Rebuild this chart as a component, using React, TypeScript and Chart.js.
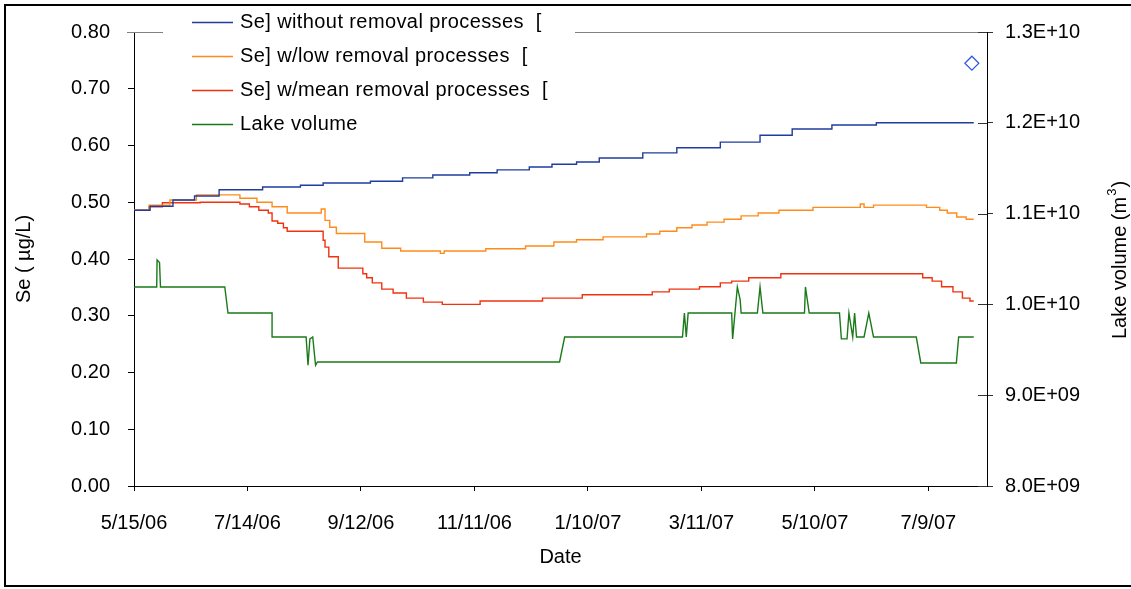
import React, { useEffect, useRef } from 'react';
import { Chart, registerables } from 'chart.js';

Chart.register(...registerables);

const FONT = "'Liberation Sans', Arial, sans-serif";

// X axis: days since 5/15/06
const xTickDays = [0, 60, 120, 180, 240, 300, 360, 420];
const xTickLabels = ['5/15/06', '7/14/06', '9/12/06', '11/11/06', '1/10/07', '3/11/07', '5/10/07', '7/9/07'];
const xMaxDay = 451;

const yTicks = [0, 0.1, 0.2, 0.3, 0.4, 0.5, 0.6, 0.7, 0.8];
const y2Ticks = [8e9, 9e9, 1e10, 1.1e10, 1.2e10, 1.3e10];
const y2TickLabels = ['8.0E+09', '9.0E+09', '1.0E+10', '1.1E+10', '1.2E+10', '1.3E+10'];

// [Se] without removal processes
const seNoRemovalDays = [0, 8.5, 20.6, 32, 45, 68, 88, 100, 125, 142, 158, 177.5, 192, 209, 221, 234, 246, 269, 287, 310, 331, 348, 369, 392.5, 444];
const seNoRemoval = [0.486, 0.493, 0.504, 0.511, 0.522, 0.527, 0.530, 0.534, 0.537, 0.543, 0.548, 0.552, 0.557, 0.562, 0.567, 0.571, 0.578, 0.587, 0.596, 0.606, 0.618, 0.629, 0.636, 0.640, 0.640];

// [Se] w/low removal processes
const seLowDays = [0, 8, 19, 33, 56, 65, 73, 81, 99, 101, 103.5, 107, 122, 131, 141, 162, 164, 186, 207, 222, 234, 248, 271, 278, 287, 295, 303, 312, 321, 330, 341, 359, 384, 386, 391, 419, 426, 430, 435, 440, 444];
const seLow = [0.486, 0.495, 0.504, 0.513, 0.507, 0.500, 0.492, 0.481, 0.488, 0.468, 0.456, 0.445, 0.430, 0.419, 0.414, 0.410, 0.414, 0.418, 0.423, 0.430, 0.434, 0.439, 0.444, 0.449, 0.455, 0.460, 0.465, 0.470, 0.476, 0.481, 0.486, 0.491, 0.497, 0.491, 0.495, 0.491, 0.486, 0.481, 0.474, 0.470, 0.470];

// [Se] w/mean removal processes
const seMeanDays = [0, 8, 15, 35, 56, 61, 66, 71, 73, 76, 79, 81, 100, 101, 103, 108, 121, 123, 126, 131, 137, 144, 153, 163, 183, 216, 237, 274, 283, 299, 310, 316, 325, 342, 417, 422, 427, 433, 438, 442, 444];
const seMean = [0.486, 0.492, 0.499, 0.500, 0.497, 0.492, 0.486, 0.481, 0.467, 0.463, 0.455, 0.449, 0.433, 0.421, 0.404, 0.384, 0.374, 0.367, 0.358, 0.347, 0.340, 0.331, 0.324, 0.320, 0.326, 0.331, 0.337, 0.342, 0.347, 0.351, 0.358, 0.361, 0.367, 0.374, 0.367, 0.361, 0.351, 0.342, 0.331, 0.326, 0.326];

// Lake volume (m3)
const lakeDays = [0, 12, 12.2, 13.5, 14, 48, 49.7, 73, 73, 91, 92, 93, 94.5, 96, 97, 225, 227.7, 290, 291, 292, 293, 316, 316.5, 319, 320.5, 321, 329.6, 331, 332.5, 354.5, 355, 357, 373, 374, 377, 378, 380, 381, 382, 386, 388.5, 391, 413.6, 416, 434.8, 436, 444];
const lakeVol = [1.0192e10, 1.0192e10, 1.0489e10, 1.046e10, 1.0192e10, 1.0192e10, 9.905e9, 9.905e9, 9.641e9, 9.641e9, 9.33e9, 9.62e9, 9.641e9, 9.33e9, 9.366e9, 9.366e9, 9.641e9, 9.641e9, 9.905e9, 9.641e9, 9.905e9, 9.905e9, 9.62e9, 1.0192e10, 1.005e10, 9.905e9, 9.905e9, 1.0192e10, 9.905e9, 9.905e9, 1.0192e10, 9.905e9, 9.905e9, 9.62e9, 9.62e9, 9.905e9, 9.641e9, 9.905e9, 9.641e9, 9.641e9, 9.905e9, 9.641e9, 9.641e9, 9.355e9, 9.355e9, 9.641e9, 9.641e9];

// Single observed point (diamond)
const observedDays = [443];
const observedSe = [0.745];

const seriesLabels = [
  'Se] without removal processes  [',
  'Se] w/low removal processes  [',
  'Se] w/mean removal processes  [',
  'Lake volume',
];
const seriesColors = ['#1F3C9E', '#FF8C1A', '#F0320F', '#1A7A1A'];

const zip = (xs: number[], ys: number[]) => xs.map((x, i) => ({ x, y: ys[i] }));

const decorPlugin = {
  id: 'decor',
  afterDraw(chart: any) {
    const ctx = chart.ctx as CanvasRenderingContext2D;
    const { left, right, top } = chart.chartArea;
    ctx.save();
    // top frame of plot area
    ctx.strokeStyle = '#808080';
    ctx.lineWidth = 1;
    ctx.beginPath();
    ctx.moveTo(left - 7, Math.round(top) + 0.5);
    ctx.lineTo(right, Math.round(top) + 0.5);
    ctx.stroke();
    // inner half of right-axis cross ticks
    const y2 = chart.scales.y2;
    ctx.strokeStyle = '#333';
    ctx.beginPath();
    y2.ticks.forEach((t: any) => {
      const py = Math.round(y2.getPixelForValue(t.value)) + 0.5;
      ctx.moveTo(right - 9, py);
      ctx.lineTo(right, py);
    });
    ctx.stroke();

    // legend
    ctx.fillStyle = '#fff';
    ctx.fillRect(163, 6, 412, 134);
    const rows = [22, 56, 90, 124];
    chart.data.datasets.slice(0, 4).forEach((ds: any, i: number) => {
      ctx.strokeStyle = ds.borderColor;
      ctx.lineWidth = 1.5;
      ctx.beginPath();
      ctx.moveTo(192, rows[i] + 0.5);
      ctx.lineTo(233, rows[i] + 0.5);
      ctx.stroke();
      ctx.fillStyle = '#000';
      ctx.font = `20px ${FONT}`;
      (ctx as any).letterSpacing = '0.4px';
      ctx.textBaseline = 'middle';
      ctx.textAlign = 'left';
      ctx.fillText(ds.label, 240, rows[i]);
      (ctx as any).letterSpacing = '0px';
    });

    // right axis title, reading bottom-to-top, with superscript
    ctx.translate(1120, 261);
    ctx.rotate(-Math.PI / 2);
    ctx.fillStyle = '#000';
    ctx.textBaseline = 'middle';
    ctx.textAlign = 'left';
    const main = 'Lake volume (m';
    const sup = '3';
    const close = ')';
    ctx.font = `20px ${FONT}`;
    const w1 = ctx.measureText(main).width;
    const w3 = ctx.measureText(close).width;
    ctx.font = `13px ${FONT}`;
    const w2 = ctx.measureText(sup).width;
    let x = -(w1 + w2 + w3) / 2;
    ctx.font = `20px ${FONT}`;
    ctx.fillText(main, x, 0);
    x += w1;
    ctx.font = `13px ${FONT}`;
    ctx.fillText(sup, x + 1, -8);
    x += w2 + 2;
    ctx.font = `20px ${FONT}`;
    ctx.fillText(close, x, 0);
    ctx.restore();

    // outer frame
    ctx.save();
    ctx.fillStyle = '#000';
    ctx.fillRect(4, 4, 1131, 2);
    ctx.fillRect(4, 4, 2, 583);
    ctx.fillRect(4, 585, 1131, 2);
    ctx.restore();
  },
};

export default function App() {
  const canvasRef = useRef<HTMLCanvasElement | null>(null);

  useEffect(() => {
    if (!canvasRef.current) return;
    Chart.defaults.font.family = FONT;
    Chart.defaults.color = '#000';
    const lineBase = { pointRadius: 0, borderWidth: 1.4, fill: false, tension: 0 };
    const chart = new Chart(canvasRef.current, {
      type: 'line',
      data: {
        datasets: [
          { ...lineBase, label: seriesLabels[0], data: zip(seNoRemovalDays, seNoRemoval), borderColor: seriesColors[0], stepped: true, yAxisID: 'y' },
          { ...lineBase, label: seriesLabels[1], data: zip(seLowDays, seLow), borderColor: seriesColors[1], stepped: true, yAxisID: 'y' },
          { ...lineBase, label: seriesLabels[2], data: zip(seMeanDays, seMean), borderColor: seriesColors[2], stepped: true, yAxisID: 'y' },
          { ...lineBase, label: seriesLabels[3], data: zip(lakeDays, lakeVol), borderColor: seriesColors[3], yAxisID: 'y2' },
          {
            label: 'Observed Se',
            data: zip(observedDays, observedSe),
            showLine: false,
            pointStyle: 'rectRot',
            pointRadius: 7,
            borderWidth: 1.2,
            borderColor: '#2E55E8',
            backgroundColor: 'rgba(255,255,255,0)',
            yAxisID: 'y',
          },
        ],
      },
      options: {
        responsive: false,
        animation: false,
        events: [],
        layout: { padding: { top: 32, left: 0, right: 0, bottom: 0 } },
        plugins: { legend: { display: false }, tooltip: { enabled: false } },
        scales: {
          x: {
            type: 'linear',
            min: 0,
            max: xMaxDay,
            afterBuildTicks: (s: any) => { s.ticks = xTickDays.map((v) => ({ value: v })); },
            afterFit: (s: any) => { s.height = 103; },
            ticks: {
              font: { size: 20 },
              padding: 20,
              maxRotation: 0,
              autoSkip: false,
              callback: (v: any) => xTickLabels[xTickDays.indexOf(Number(v))] ?? '',
            },
            grid: { drawOnChartArea: false, tickLength: 5, color: '#000' },
            border: { color: '#000', width: 1 },
            title: { display: true, text: 'Date', font: { size: 20 }, padding: { top: 0, bottom: 20 } },
          },
          y: {
            type: 'linear',
            position: 'left',
            min: 0,
            max: 0.8,
            afterBuildTicks: (s: any) => { s.ticks = yTicks.map((v) => ({ value: v })); },
            afterFit: (s: any) => { s.width = 134; },
            ticks: { font: { size: 20 }, padding: 18, callback: (v: any) => Number(v).toFixed(2) },
            grid: { drawOnChartArea: false, tickLength: 6, color: '#000' },
            border: { color: '#000', width: 1 },
            title: { display: true, text: 'Se ( µg/L)', font: { size: 20 }, padding: { top: 12, bottom: 0 } },
          },
          y2: {
            type: 'linear',
            position: 'right',
            min: 8e9,
            max: 1.3e10,
            afterBuildTicks: (s: any) => { s.ticks = y2Ticks.map((v) => ({ value: v })); },
            afterFit: (s: any) => { s.width = 144; },
            ticks: { font: { size: 20 }, padding: 12, callback: (v: any) => y2TickLabels[y2Ticks.indexOf(Number(v))] ?? '' },
            grid: { drawOnChartArea: false, tickLength: 6, color: '#333' },
            border: { color: '#000', width: 1 },
          },
        },
      },
      plugins: [decorPlugin],
    } as any);
    return () => chart.destroy();
  }, []);

  return (
    <div style={{ position: 'absolute', left: 0, top: 0, width: 1131, height: 589, overflow: 'hidden', background: '#fff' }}>
      <canvas ref={canvasRef} width={1131} height={589} style={{ display: 'block' }} />
    </div>
  );
}
